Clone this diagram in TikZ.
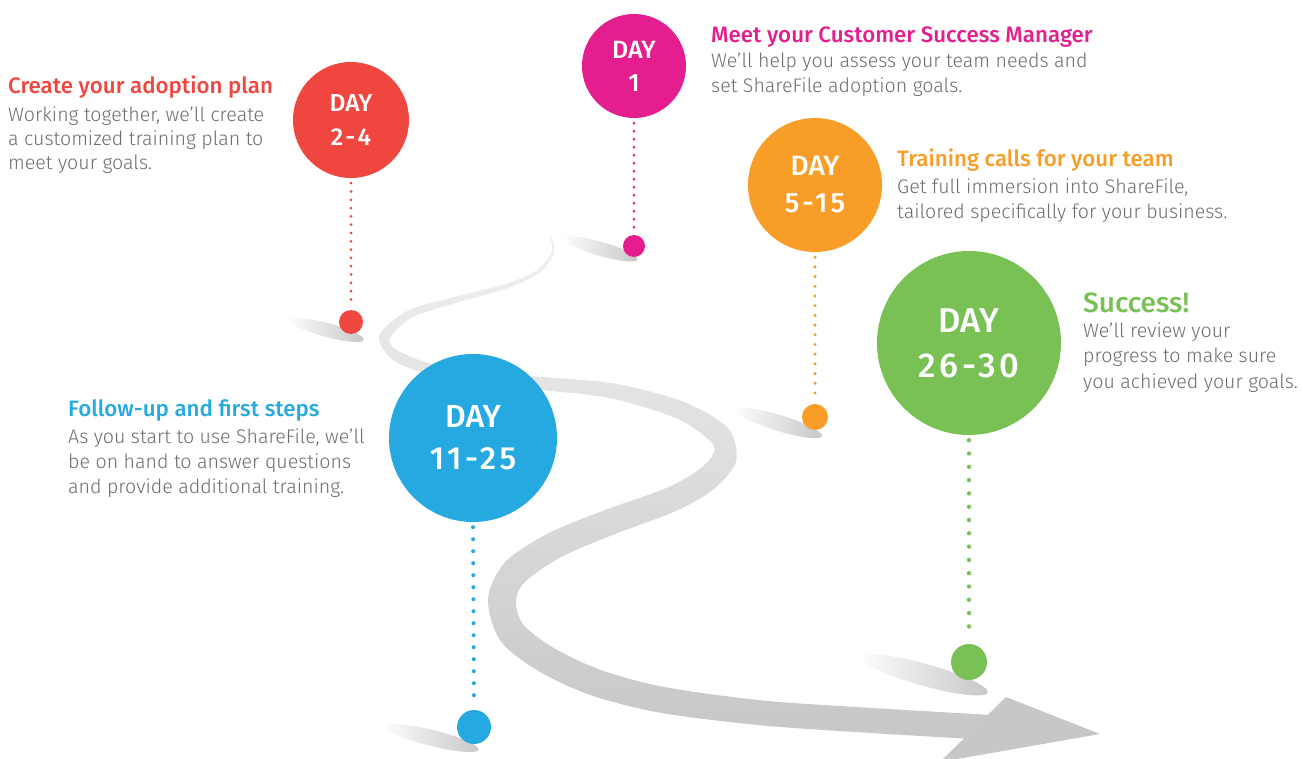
\documentclass[tikz,border=0pt]{standalone}
\usepackage{fontspec}
\setmainfont{Fira Sans}[UprightFont=* Light]
\newfontfamily\headfont{Fira Sans}[UprightFont=* Medium]
\definecolor{cRed}{HTML}{EF463F}
\definecolor{cMag}{HTML}{E41E8E}
\definecolor{cOra}{HTML}{F89D28}
\definecolor{cBlu}{HTML}{26A9E0}
\definecolor{cGre}{HTML}{79C154}
\definecolor{txt}{HTML}{6D6E71}
\definecolor{arrowgray}{HTML}{C6C7C9}
\newcommand\hd{\headfont\fontsize{22.3}{24}\selectfont}
\newcommand\bd{\fontsize{19.6}{24}\selectfont}
\newcommand\wide{\addfontfeature{LetterSpace=11}}
\tikzset{
  daycircle/.style={circle, inner sep=0pt, text=white, align=center},
  dotnode/.style={circle, inner sep=0pt},
  stem/.style={line width=#1, line cap=round},
  txtblock/.style={anchor=base west, inner sep=0pt, text=txt},
  shadowell/.style={left color=black!1, right color=black!22}
}
\begin{document}
\begin{tikzpicture}[x=1pt,y=-1pt]
\clip (0,0) rectangle (1303,759);
\fill[white] (0,0) rectangle (1303,759);
% road
\shade[top color=black!6, bottom color=black!22]
  plot[smooth, tension=0.5] coordinates {(550.3,238.1) (551.8,251.6) (538.9,268.6) (509.3,282.9) (454.2,297.1) (408.1,310.5) (379.3,335.3) (392.0,359.3) (428.7,374.3) (489.2,385.0) (546.4,390.5) (611.6,398.4) (676.5,418.3) (711.1,441.9) (712.9,454.8) (697.5,470.7) (665.0,488.6) (605.3,509.9) (548.7,533.1) (504.9,562.3) (488.0,599.3) (500.8,641.4) (540.0,671.9) (592.6,695.8) (660.7,712.8) (761.8,725.4) (879.2,733.5) (999.3,740.5)}
  -- plot[smooth, tension=0.5] coordinates {(1000.7,715.5) (880.8,708.5) (764.2,700.6) (665.3,687.2) (601.4,670.2) (554.0,648.1) (523.2,624.6) (516.0,600.7) (525.1,581.7) (561.3,556.9) (614.7,534.1) (675.0,511.4) (713.5,489.3) (736.1,461.2) (727.9,428.1) (683.5,401.7) (614.4,383.6) (547.6,377.5) (490.8,373.0) (431.3,363.7) (398.0,350.7) (389.7,338.7) (411.9,317.5) (455.8,302.9) (510.7,287.1) (541.1,271.4) (554.2,252.4) (551.7,237.9)}
  -- cycle;
\fill[arrowgray] (1006,697) -- (1100,734) -- (940,762) -- cycle;
% shadows
\shade[shadowell, rotate around={-16:(601,249)}] (601,249) ellipse (38pt and 7pt);
\shade[shadowell, rotate around={-15:(327,330)}] (327,330) ellipse (38pt and 7pt);
\shade[shadowell, rotate around={-17:(779,423)}] (779,423) ellipse (45pt and 8pt);
\shade[shadowell, rotate around={-14:(432,738)}] (432,738) ellipse (48pt and 8pt);
\shade[shadowell, rotate around={-15.6:(925,675)}] (925,675) ellipse (65pt and 11pt);
% circles
\node[daycircle, fill=cRed, minimum size=116pt, font=\headfont\fontsize{24.5}{34}\selectfont] (c24) at (351,120) {DAY\\{\wide 2-4}};
\node[daycircle, fill=cMag, minimum size=104pt, font=\headfont\fontsize{25}{33}\selectfont] (c1) at (634,66) {DAY\\1};
\node[daycircle, fill=cOra, minimum size=134pt, font=\headfont\fontsize{28}{37}\selectfont] (c515) at (815,185) {DAY\\{\wide 5-15}};
\node[daycircle, fill=cBlu, minimum size=168pt, font=\headfont\fontsize{32}{42}\selectfont] (c1125) at (473,438) {DAY\\{\wide 11-25}};
\node[daycircle, fill=cGre, minimum size=184pt, font=\headfont\fontsize{34.5}{45}\selectfont] (c2630) at (969,343) {DAY\\{\wide 26-30}};
% dots
\node[dotnode, fill=cRed, minimum size=24pt] (d24) at (351,322) {};
\node[dotnode, fill=cMag, minimum size=22pt] (d1) at (634,246) {};
\node[dotnode, fill=cOra, minimum size=26pt] (d515) at (815,417) {};
\node[dotnode, fill=cBlu, minimum size=34pt] (d1125) at (474,727) {};
\node[dotnode, fill=cGre, minimum size=36pt] (d2630) at (969,662) {};
% stems
\draw[cRed, stem=3pt, dash pattern=on 0pt off 8.3pt] ([yshift=-5pt]c24.south) -- ([yshift=4pt]d24.north);
\draw[cMag, stem=3pt, dash pattern=on 0pt off 8pt] ([yshift=-5pt]c1.south) -- ([yshift=4pt]d1.north);
\draw[cOra, stem=3.4pt, dash pattern=on 0pt off 9.7pt] ([yshift=-5pt]c515.south) -- ([yshift=4pt]d515.north);
\draw[cBlu, stem=4pt, dash pattern=on 0pt off 12pt] ([yshift=-5pt]c1125.south) -- ([yshift=5pt]d1125.north);
\draw[cGre, stem=4.4pt, dash pattern=on 0pt off 13.3pt] ([yshift=-5pt]c2630.south) -- ([yshift=5pt]d2630.north);
% texts
\node[txtblock] (t24) at (8,94) {\vtop{\baselineskip=24pt\lineskiplimit=-100pt
  \hbox{\hd\color{cRed}Create your adoption plan}\vskip4pt
  \hbox{\bd Working together, we’ll create}
  \hbox{\bd a customized training plan to}
  \hbox{\bd meet your goals.}}};
\node[txtblock] (t1) at (711,43) {\vtop{\baselineskip=25pt\lineskiplimit=-100pt
  \hbox{\hd\color{cMag}Meet your Customer Success Manager}
  \hbox{\bd We’ll help you assess your team needs and}
  \hbox{\bd set ShareFile adoption goals.}}};
\node[txtblock] (t515) at (897,167) {\vtop{\baselineskip=25pt\lineskiplimit=-100pt
  \hbox{\hd\color{cOra}Training calls for your team}\vskip2pt
  \hbox{\bd Get full immersion into ShareFile,}
  \hbox{\bd tailored specifically for your business.}}};
\node[txtblock] (t1125) at (68,416) {\vtop{\baselineskip=25pt\lineskiplimit=-100pt
  \hbox{\hd\color{cBlu}Follow-up and first steps}\vskip2pt
  \hbox{\bd As you start to use ShareFile, we’ll}
  \hbox{\bd be on hand to answer questions}
  \hbox{\bd and provide additional training.}}};
\node[txtblock] (t2630) at (1083,312) {\vtop{\baselineskip=25.5pt\lineskiplimit=-100pt
  \hbox{\headfont\fontsize{28}{28}\selectfont\color{cGre}Success!}
  \hbox{\bd We’ll review your}
  \hbox{\bd progress to make sure}
  \hbox{\bd you achieved your goals.}}};
\end{tikzpicture}
\end{document}
